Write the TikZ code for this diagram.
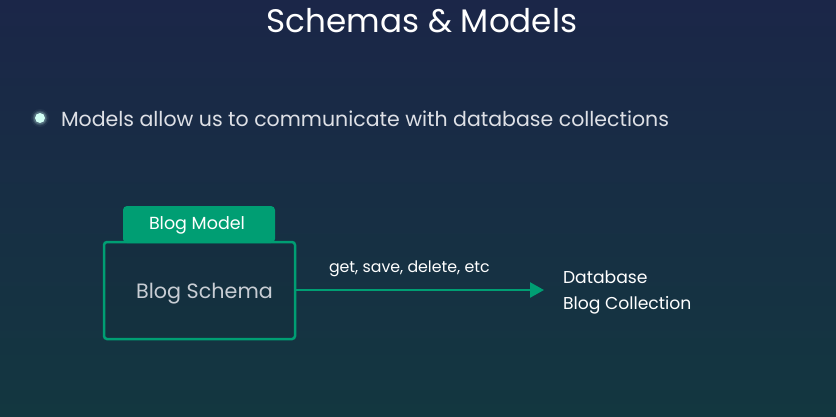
\documentclass[tikz,border=0pt]{standalone}
\usepackage{fontspec}
\setmainfont{Poppins}
\usetikzlibrary{arrows.meta,shadings}
\definecolor{bgtop}{RGB}{27,38,72}
\definecolor{bgbot}{RGB}{19,55,64}
\definecolor{mgreen}{RGB}{0,158,115}
\definecolor{lgray}{RGB}{200,205,212}
\definecolor{btext}{RGB}{222,224,230}
\definecolor{dotc}{RGB}{210,255,245}
\tikzset{
  every node/.style={inner sep=0pt,outer sep=0pt},
  tabbox/.style={fill=mgreen,rounded corners=4pt},
  schemabox/.style={draw=mgreen,line width=2.5pt,rounded corners=3pt,fill=black,fill opacity=0.04},
  conn/.style={draw=mgreen,line width=2.5pt,-{Triangle[length=14pt,width=15pt]}},
  txt/.style={text=btext,anchor=base west},
}
\begin{document}
\begin{tikzpicture}[x=1pt,y=-1pt]
\shade[top color=bgtop,bottom color=bgbot] (0,0) rectangle (836,416);
\useasboundingbox (0,0) rectangle (836,416);
% title
\node[text=white,font=\fontsize{32.6}{38}\selectfont,anchor=base] (title) at (422,32) {Schemas \& Models};
% bullet
\foreach \r/\o in {9/0.05,7.5/0.1,6.5/0.2}{\fill[dotc,opacity=\o] (40,118) circle (\r);}
\node[circle,fill=dotc,minimum size=10pt] (dot) at (40,118) {};
\node[txt,font=\fontsize{20.5}{24}\selectfont] (bullet) at (61,126) {Models allow us to communicate with database collections};
% tab
\path[tabbox] (123,243) -- (123,206) -- (275,206) -- (275,243) -- cycle;
\node[text=white,font=\fontsize{17.5}{20}\selectfont,anchor=base] (model) at (197,229) {Blog Model};
% box
\node[schemabox,minimum width=191pt,minimum height=97pt,anchor=north west] (box) at (104,242) {};
\node[text=lgray,font=\fontsize{20.7}{24}\selectfont,anchor=base] (schema) at (204.5,298) {Blog Schema};
% arrow
\coordinate (tip) at (544,290);
\draw[conn] (box.east |- 0,290) -- (tip);
\node[text=white,font=\fontsize{15.8}{18}\selectfont,anchor=base west] (ops) at (329,272) {get, save, delete, etc};
\node[txt,text=white,font=\fontsize{17.2}{20}\selectfont] (db) at (563,283) {Database};
\node[txt,text=white,font=\fontsize{17.2}{20}\selectfont] (coll) at (563,309) {Blog Collection};
\end{tikzpicture}
\end{document}
